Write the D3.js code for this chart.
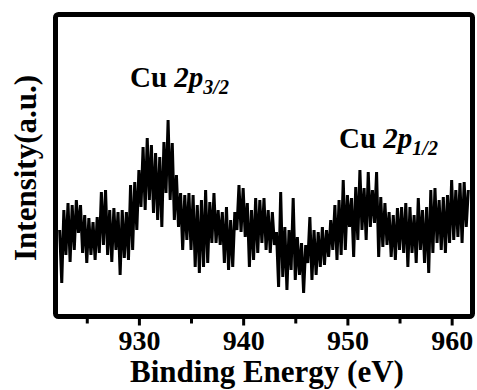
<!DOCTYPE html>
<html>
<head>
<meta charset="utf-8">
<script src="https://cdn.jsdelivr.net/npm/d3@7"></script>
<style>
  body { margin: 0; background: #fff; }
  svg { display: block; }
</style>
</head>
<body>
<div id="chart"></div>
<script>
// Cu 2p XPS spectrum, energy grid in eV (uniform 0.2 eV steps)
const eStart = 922.4;
const eStep = 0.2;
const intensity = [
  86, 33, 106, 61, 113, 54, 111, 66, 116, 83,
  111, 63, 101, 53, 98, 61, 94, 56, 99, 63,
  124, 71, 126, 61, 106, 54, 108, 66, 104, 41,
  106, 58, 104, 56, 131, 66, 134, 86, 146, 109,
  169, 106, 178, 116, 171, 103, 163, 96, 159, 89,
  174, 123, 196, 116, 173, 96, 141, 89, 123, 66,
  121, 76, 123, 66, 121, 49, 111, 43, 116, 49,
  126, 53, 114, 73, 123, 73, 106, 71, 104, 53,
  109, 46, 96, 49, 104, 86, 131, 84, 128, 79,
  113, 49, 106, 56, 118, 63, 116, 73, 118, 66,
  106, 63, 104, 71, 84, 29, 124, 39, 89, 26,
  86, 46, 118, 36, 79, 41, 73, 23, 71, 53,
  99, 36, 86, 41, 84, 49, 89, 51, 86, 59,
  96, 66, 111, 56, 116, 61, 136, 66, 121, 89,
  118, 59, 129, 76, 146, 86, 128, 76, 144, 89,
  126, 93, 144, 59, 119, 69, 113, 71, 104, 59,
  101, 56, 108, 66, 109, 63, 113, 49, 109, 63,
  101, 53, 118, 66, 106, 53, 109, 43, 126, 63,
  128, 73, 116, 66, 119, 63, 121, 73, 136, 76,
  126, 79, 133, 73, 134, 89, 126
];
const xDomain = [922, 962];
const yDomain = [0, 300];
const majorTicks = [930, 940, 950, 960];
const minorTicks = [925, 935, 945, 955];

const data = intensity.map((v, i) => ({ e: eStart + i * eStep, v: v }));

const W = 477, H = 390;
const m = { left: 55.5, right: 472.5, top: 14.5, bottom: 316.5 };
const serif = 'Liberation Serif';

const svg = d3.select('#chart').append('svg')
  .attr('width', W)
  .attr('height', H);

const x = d3.scaleLinear().domain(xDomain).range([m.left, m.right]);
const y = d3.scaleLinear().domain(yDomain).range([316, 16]);

svg.append('clipPath').attr('id', 'plotclip')
  .append('rect')
  .attr('x', m.left).attr('y', m.top)
  .attr('width', m.right - m.left).attr('height', m.bottom - m.top);

// spectrum
svg.append('path')
  .datum(data)
  .attr('clip-path', 'url(#plotclip)')
  .attr('fill', 'none')
  .attr('stroke', '#000')
  .attr('stroke-width', 3)
  .attr('stroke-linejoin', 'miter')
  .attr('d', d3.line().x(d => x(d.e)).y(d => y(d.v)));

// minor ticks
const minorAxis = svg.append('g')
  .attr('transform', `translate(0,${m.bottom})`)
  .call(d3.axisBottom(x).tickValues(minorTicks).tickSize(7).tickFormat(''));
minorAxis.select('.domain').remove();
minorAxis.selectAll('line').attr('stroke-width', 3);

// major ticks + labels
const majorAxis = svg.append('g')
  .attr('transform', `translate(0,${m.bottom})`)
  .attr('font-family', serif)
  .attr('font-size', 28)
  .attr('font-weight', 'bold')
  .call(d3.axisBottom(x).tickValues(majorTicks).tickSize(9).tickFormat(d3.format('d')));
majorAxis.attr('font-family', serif).attr('font-size', 28);
majorAxis.select('.domain').remove();
majorAxis.selectAll('line').attr('stroke-width', 3);
majorAxis.selectAll('text')
  .attr('y', 33.5)
  .attr('dy', 0)
  .attr('fill', '#000');

// frame
svg.append('rect')
  .attr('x', m.left).attr('y', m.top)
  .attr('width', m.right - m.left).attr('height', m.bottom - m.top)
  .attr('rx', 3)
  .attr('fill', 'none')
  .attr('stroke', '#000')
  .attr('stroke-width', 5);

// X label
svg.append('text')
  .attr('x', 267)
  .attr('y', 382)
  .attr('text-anchor', 'middle')
  .attr('font-family', serif)
  .attr('font-weight', 'bold')
  .attr('font-size', 31)
  .text('Binding Energy (eV)');

// Y label
svg.append('text')
  .attr('text-anchor', 'middle')
  .attr('transform', 'translate(36,168)rotate(-90)')
  .attr('font-family', serif)
  .attr('font-weight', 'bold')
  .attr('font-size', 31)
  .text('Intensity(a.u.)');

// peak labels
function peakLabel(px, py, sub) {
  const t = svg.append('text')
    .attr('x', px).attr('y', py)
    .attr('font-family', serif)
    .attr('font-weight', 'bold')
    .attr('font-size', 29);
  t.append('tspan').text('Cu ');
  t.append('tspan').attr('font-style', 'italic').text('2p');
  t.append('tspan').attr('font-style', 'italic')
    .attr('font-size', 20).attr('dy', 7).text(sub);
}
peakLabel(130, 87, '3/2');
peakLabel(339, 148, '1/2');
</script>
</body>
</html>
